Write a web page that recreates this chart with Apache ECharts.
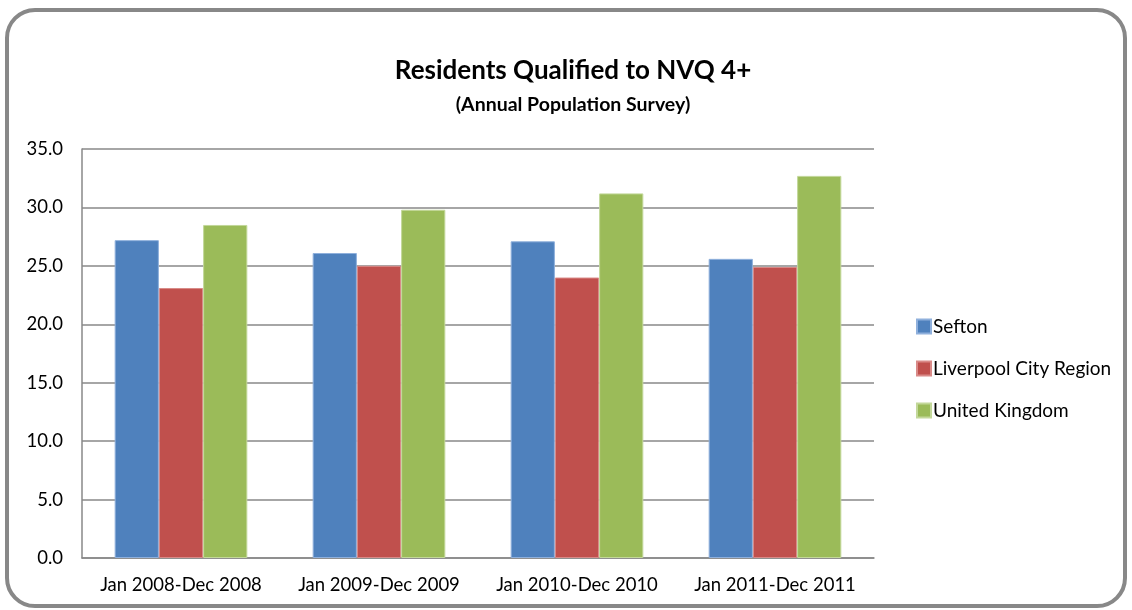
<!DOCTYPE html>
<html>
<head>
<meta charset="utf-8">
<script src="https://cdn.jsdelivr.net/npm/echarts@6/dist/echarts.min.js"></script>
<style>
  html, body { margin: 0; padding: 0; background: #fff; }
  #main { width: 1132px; height: 610px; }
</style>
</head>
<body>
<div id="main"></div>
<script>
var categories = ['Jan 2008-Dec 2008', 'Jan 2009-Dec 2009', 'Jan 2010-Dec 2010', 'Jan 2011-Dec 2011'];
var sefton = [27.2, 26.1, 27.1, 25.6];
var liverpool = [23.1, 25.0, 24.0, 24.9];
var unitedKingdom = [28.5, 29.8, 31.2, 32.7];
var yTicks = [0, 5, 10, 15, 20, 25, 30, 35];

var font = 'Lato, "Open Sans", sans-serif';
var chart = echarts.init(document.getElementById('main'));

var option = {
    animation: false,
    textStyle: { fontFamily: font },
    graphic: [{
        type: 'rect',
        shape: { x: 7, y: 10, width: 1118, height: 596, r: 28 },
        style: { fill: 'none', stroke: '#888888', lineWidth: 4 },
        z: -1
    }],
    title: {
        text: 'Residents Qualified to NVQ 4+',
        subtext: '(Annual Population Survey)',
        left: 568,
        textAlign: 'center',
        top: 53,
        itemGap: 11,
        textStyle: { fontFamily: font, fontSize: 26, fontWeight: 'bold', color: '#000' },
        subtextStyle: { fontFamily: font, fontSize: 19.5, fontWeight: 'bold', color: '#000' }
    },
    legend: {
        orient: 'vertical',
        left: 911,
        top: 312,
        itemWidth: 14,
        itemHeight: 14,
        itemGap: 23,
        icon: 'rect',
        textStyle: { fontFamily: font, fontSize: 19, color: '#000', padding: [0, 0, 0, -3] },
        data: ['Sefton', 'Liverpool City Region', 'United Kingdom']
    },
    grid: { left: 82, right: 258, top: 149, bottom: 52 },
    xAxis: {
        type: 'category',
        data: categories,
        axisLine: { lineStyle: { color: '#888888', width: 1.5 } },
        axisTick: { show: false },
        axisLabel: { fontFamily: font, fontSize: 18.5, color: '#000', margin: 18, interval: 0 }
    },
    yAxis: {
        type: 'value',
        min: yTicks[0],
        max: yTicks[yTicks.length - 1],
        interval: 5,
        axisLine: { show: true, lineStyle: { color: '#888888', width: 1.5 } },
        axisTick: { show: false },
        axisLabel: {
            fontFamily: font, fontSize: 18.5, color: '#000', margin: 19,
            formatter: function (v) { return v.toFixed(1); }
        },
        splitLine: { lineStyle: { color: '#888888', width: 1.5 } }
    },
    series: [
        {
            name: 'Sefton', type: 'bar', data: sefton,
            barGap: '0%', barCategoryGap: '33%',
            itemStyle: { color: '#4f81bd', borderColor: '#8fb0dc', borderWidth: 1 }
        },
        {
            name: 'Liverpool City Region', type: 'bar', data: liverpool,
            itemStyle: { color: '#c0504d', borderColor: '#d98a88', borderWidth: 1 }
        },
        {
            name: 'United Kingdom', type: 'bar', data: unitedKingdom,
            itemStyle: { color: '#9bbb59', borderColor: '#c3d89a', borderWidth: 1 }
        }
    ]
};

chart.setOption(option);
</script>
</body>
</html>
